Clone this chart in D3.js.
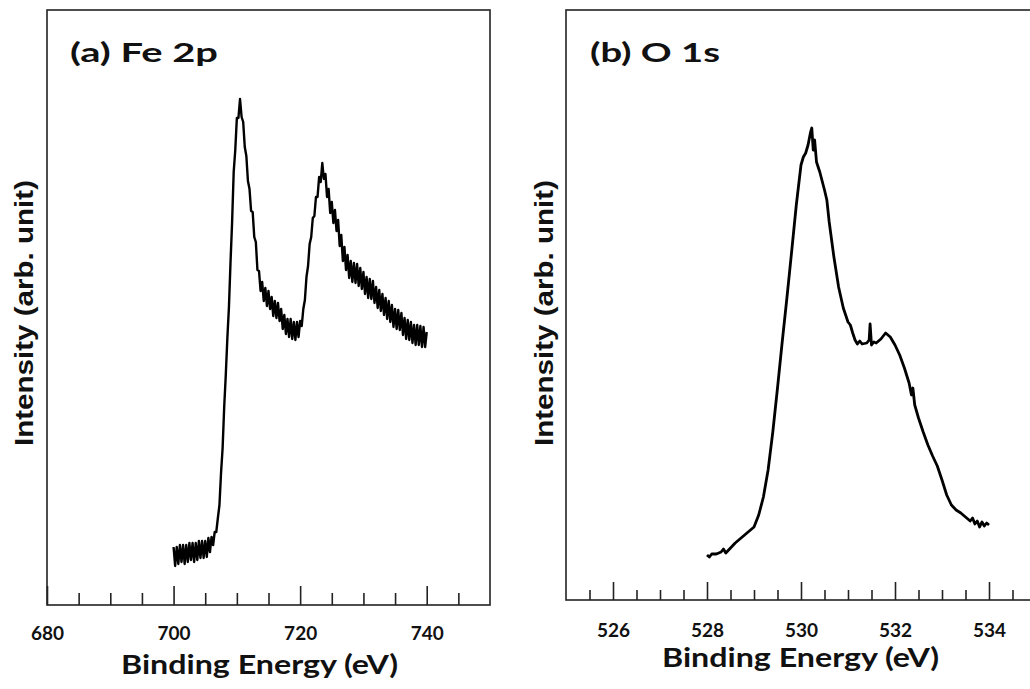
<!DOCTYPE html>
<html>
<head>
<meta charset="utf-8">
<script src="https://cdn.jsdelivr.net/npm/d3@7"></script>
<style>
  html, body { margin: 0; padding: 0; background: #fff; }
  svg { display: block; }
</style>
</head>
<body>
<svg id="chart" width="1030" height="689"></svg>
<script>
// ---------------- DATA ----------------
// Panel (a) Fe 2p : sampled every 0.25 eV from 700 to 740 eV
const feEnergy = d3.range(700, 740.001, 0.25);
const feIntensity = [
  58,39,58,41,60,43,60,41,
  60,43,62,45,62,43,62,45,
  64,47,64,47,64,48,67,53,
  68,60,73,73,87,100,132,157,
  198,230,267,298,343,383,433,455,
  487,487,506,488,483,458,449,424,
  416,394,393,368,363,335,334,314,
  323,304,317,299,314,296,308,289,
  304,287,302,284,296,276,290,271,
  286,268,286,266,283,265,283,268,
  284,279,296,305,328,339,361,368,
  387,389,408,408,428,423,442,426,
  431,408,416,392,403,382,395,374,
  385,359,370,344,358,335,350,327,
  344,323,342,322,341,319,337,316,
  333,311,328,307,326,306,324,302,
  318,297,315,294,311,290,307,286,
  304,283,300,278,296,276,295,275,
  292,270,287,266,285,265,283,262,
  280,260,280,260,279,258,278,258,
  273
];

// Panel (b) O 1s
const oEnergy = [
  528.00,528.05,528.10,528.20,528.30,528.35,528.40,528.50,528.60,528.70,
  528.80,528.90,529.00,529.10,529.20,529.30,529.40,529.50,529.60,529.70,
  529.80,529.90,530.00,530.05,530.10,530.15,530.20,530.23,530.26,530.29,
  530.33,530.40,530.50,530.55,530.60,530.70,530.80,530.90,531.00,531.05,
  531.10,531.15,531.20,531.25,531.30,531.40,531.45,531.47,531.50,531.55,
  531.60,531.70,531.80,531.90,532.00,532.10,532.20,532.30,532.35,532.38,
  532.42,532.50,532.60,532.70,532.80,532.90,533.00,533.10,533.20,533.30,
  533.40,533.50,533.60,533.65,533.70,533.75,533.80,533.85,533.90,533.95,
  534.00
];
const oIntensity = [
  45,43,46,46,48,51,47,52,57,61,
  65,69,73,85,103,130,168,212,258,302,
  348,395,435,443,447,455,467,472,450,460,
  438,428,410,400,378,343,313,292,278,275,
  267,260,256,259,256,257,260,276,255,258,
  257,261,267,263,255,245,232,217,205,212,
  195,182,168,155,144,134,120,105,95,90,
  87,83,79,82,76,79,73,78,74,77,
  75
];

// Tick definitions
const feMajorTicks = [680, 700, 720, 740];
const feMinorTicks = [685, 690, 695, 705, 710, 715, 725, 730, 735, 745];
const oMajorTicks = [526, 528, 530, 532, 534];
const oMinorTicks = [525.5, 526.5, 527, 527.5, 528.5, 529, 529.5, 530.5, 531, 531.5, 532.5, 533, 533.5, 534.5];

const panelLabels = ["(a) Fe 2p", "(b) O 1s"];
const xTitle = "Binding Energy (eV)";
const yTitle = "Intensity (arb. unit)";

// ---------------- DRAW ----------------
const svg = d3.select("#chart");
const titleFont = "Lato, 'DejaVu Sans', sans-serif";
const yFont = "'Liberation Sans', Arial, sans-serif";

function panel(cfg) {
  const g = svg.append("g");
  const x = d3.scaleLinear().domain(cfg.xDomain).range([cfg.left, cfg.right]);
  const y = d3.scaleLinear().domain(cfg.yDomain).range([cfg.bottom, cfg.top]);

  // frame
  g.append("rect")
    .attr("x", cfg.left).attr("y", cfg.top)
    .attr("width", cfg.right - cfg.left).attr("height", cfg.bottom - cfg.top)
    .attr("fill", "none").attr("stroke", "#222").attr("stroke-width", 1.6);

  // minor ticks
  const minorAxis = d3.axisBottom(x).tickValues(cfg.minor).tickSize(-cfg.minorLen).tickFormat("");
  const gm = g.append("g").attr("transform", `translate(0,${cfg.bottom})`).call(minorAxis);
  gm.select(".domain").remove();
  gm.selectAll("line").attr("stroke", "#222").attr("stroke-width", 1.6);

  // major ticks + labels
  const majorAxis = d3.axisBottom(x).tickValues(cfg.major).tickSize(-cfg.majorLen)
    .tickPadding(cfg.labelPad).tickFormat(d3.format("d"));
  const gM = g.append("g").attr("transform", `translate(0,${cfg.bottom})`).call(majorAxis);
  gM.select(".domain").remove();
  gM.selectAll("line").attr("stroke", "#222").attr("stroke-width", 1.6);
  gM.selectAll("text")
    .attr("font-family", titleFont).attr("font-weight", "bold")
    .attr("font-size", 19).attr("fill", "#111")
    .attr("dy", null).attr("y", cfg.labelPad);

  // the spectrum
  const pts = cfg.xs.map((e, i) => [e, cfg.ys[i]]);
  g.append("path")
    .datum(pts)
    .attr("fill", "none").attr("stroke", "#000")
    .attr("stroke-width", cfg.lineW).attr("stroke-linejoin", "round")
    .attr("d", d3.line().x(d => x(d[0])).y(d => y(d[1])));

  // panel label
  g.append("text")
    .attr("x", cfg.labelX).attr("y", 62)
    .attr("font-family", titleFont).attr("font-weight", "bold")
    .attr("font-size", 27).attr("fill", "#111")
    .attr("textLength", cfg.labelLen).attr("lengthAdjust", "spacingAndGlyphs")
    .text(cfg.label);

  // x title
  g.append("text")
    .attr("x", cfg.xTitleX - 138).attr("y", cfg.xTitleY)
    .attr("font-family", titleFont).attr("font-weight", "bold")
    .attr("font-size", 27).attr("fill", "#111")
    .attr("textLength", 277).attr("lengthAdjust", "spacingAndGlyphs")
    .text(xTitle);

  // y title
  g.append("text")
    .attr("transform", `translate(${cfg.yTitleX},${313}) rotate(-90)`)
    .attr("x", -133).attr("y", 0)
    .attr("font-family", yFont).attr("font-weight", "bold")
    .attr("font-size", 25).attr("fill", "#111")
    .attr("textLength", 266).attr("lengthAdjust", "spacingAndGlyphs")
    .text(yTitle);
}

panel({
  xDomain: [680, 750], yDomain: [0, 595],
  left: 47, right: 490, top: 10, bottom: 605,
  major: feMajorTicks, minor: feMinorTicks, majorLen: 19, minorLen: 12,
  labelPad: 35,
  xs: feEnergy, ys: feIntensity, lineW: 2.4,
  label: panelLabels[0], labelX: 70, labelLen: 148,
  xTitleX: 259, xTitleY: 674, yTitleX: 33
});

panel({
  xDomain: [525, 535], yDomain: [0, 590],
  left: 566, right: 1036, top: 10, bottom: 600,
  major: oMajorTicks, minor: oMinorTicks, majorLen: 18, minorLen: 10,
  labelPad: 37,
  xs: oEnergy, ys: oIntensity, lineW: 2.8,
  label: panelLabels[1], labelX: 590, labelLen: 130,
  xTitleX: 800, xTitleY: 667, yTitleX: 553
});
</script>
</body>
</html>
